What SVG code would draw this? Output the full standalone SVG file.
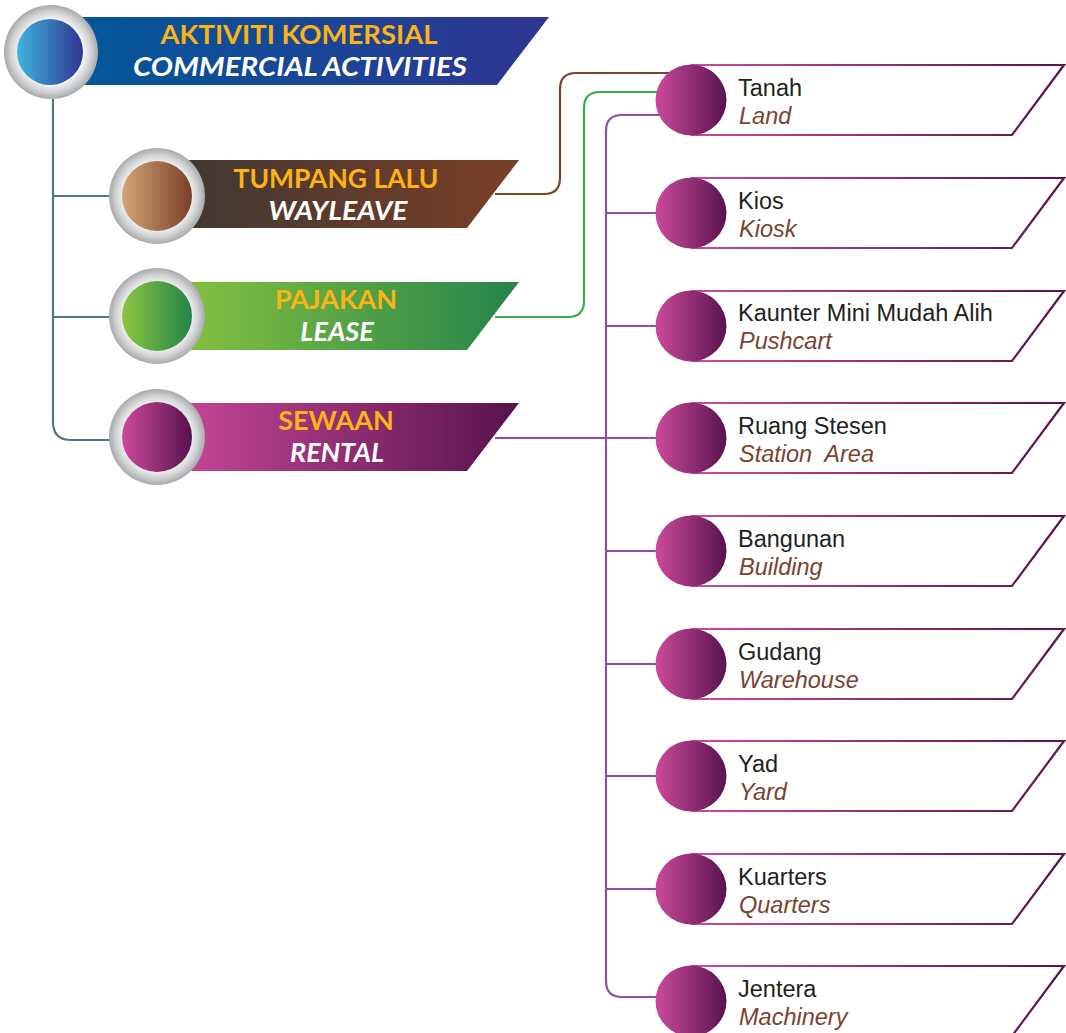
<svg xmlns="http://www.w3.org/2000/svg" width="1066" height="1033" viewBox="0 0 1066 1033">
<defs>
  <radialGradient id="ring" cx="50%" cy="50%" r="50%">
    <stop offset="0.70" stop-color="#f1f2f2"/>
    <stop offset="0.85" stop-color="#d1d3d4"/>
    <stop offset="1" stop-color="#a7a9ac"/>
  </radialGradient>
  <linearGradient id="gBlueC" x1="0" y1="0" x2="1" y2="0">
    <stop offset="0" stop-color="#40b5dc"/>
    <stop offset="1" stop-color="#2e3590"/>
  </linearGradient>
  <linearGradient id="gBlueB" x1="0" y1="0" x2="1" y2="0">
    <stop offset="0" stop-color="#00599a"/>
    <stop offset="1" stop-color="#2f3592"/>
  </linearGradient>
  <linearGradient id="gBrownC" x1="0" y1="0" x2="1" y2="0">
    <stop offset="0" stop-color="#d4a676"/>
    <stop offset="1" stop-color="#7a3f27"/>
  </linearGradient>
  <linearGradient id="gBrownB" x1="0" y1="0" x2="1" y2="0">
    <stop offset="0" stop-color="#3c3733"/>
    <stop offset="1" stop-color="#7b3f26"/>
  </linearGradient>
  <linearGradient id="gGreenC" x1="0" y1="0" x2="1" y2="0">
    <stop offset="0" stop-color="#8dc63f"/>
    <stop offset="1" stop-color="#23844a"/>
  </linearGradient>
  <linearGradient id="gGreenB" x1="0" y1="0" x2="1" y2="0">
    <stop offset="0" stop-color="#8dc63f"/>
    <stop offset="1" stop-color="#23844a"/>
  </linearGradient>
  <linearGradient id="gPink" x1="0" y1="0" x2="1" y2="0">
    <stop offset="0" stop-color="#cc4a9c"/>
    <stop offset="1" stop-color="#58134d"/>
  </linearGradient>
  <linearGradient id="gPinkStroke" gradientUnits="userSpaceOnUse" x1="690" y1="0" x2="1066" y2="0">
    <stop offset="0" stop-color="#cc4a9c"/>
    <stop offset="1" stop-color="#58134d"/>
  </linearGradient>
  <g id="itemBox">
    <path d="M691 -35 H1064 L1012 35 H691" fill="#fff" stroke="url(#gPinkStroke)" stroke-width="2.2"/>
    <circle cx="691" cy="0" r="35.5" fill="url(#gPink)"/>
  </g>
</defs>
<style>
  .conn { fill: none; stroke-width: 2.2; }
  .gray { stroke: #4f7a82; }
  .brown { stroke: #7b4528; }
  .green { stroke: #3cab4a; }
  .purple { stroke: #9050a2; }
  .hTop { font-family: Lato, "Open Sans", sans-serif; font-weight: bold; font-size: 27px; fill: #fbb316; text-anchor: middle; }
  .hBot { font-family: Lato, "Open Sans", sans-serif; font-weight: bold; font-style: italic; font-size: 27px; fill: #ffffff; text-anchor: middle; }
  .iTop { font-family: "Liberation Sans", Arial, sans-serif; font-size: 23.5px; fill: #231f20; }
  .iBot { font-family: "Liberation Sans", Arial, sans-serif; font-size: 23.5px; font-style: italic; fill: #7a4330; white-space: pre; }
</style>

<g id="connectors">
  <path class="conn gray" d="M53 99 V422 Q53 440 71 440 H112"/>
  <path class="conn gray" d="M53 196 H112"/>
  <path class="conn gray" d="M53 317 H112"/>
  <path class="conn brown" d="M495 194 H544 Q560 194 560 178 V89 Q560 73 576 73 H680"/>
  <path class="conn green" d="M495 317 H568 Q584 317 584 301 V108 Q584 92 600 92 H680"/>
  <path class="conn purple" d="M680 115 H622 Q606 115 606 131 V981 Q606 997 622 997 H680"/>
  <path class="conn purple" d="M606 213 H680 M606 326 H680 M495 438 H680 M606 551 H680 M606 664 H680 M606 776 H680 M606 889 H680"/>
</g>

<g id="node-header">
  <path d="M52 17 H549 L497 85 H52 Z" fill="url(#gBlueB)"/>
  <circle cx="51" cy="52" r="47" fill="url(#ring)"/>
  <circle cx="50" cy="52" r="33" fill="url(#gBlueC)"/>
  <text class="hTop" x="299" y="44" textLength="277" lengthAdjust="spacingAndGlyphs">AKTIVITI KOMERSIAL</text>
  <text class="hBot" x="300" y="76" textLength="334" lengthAdjust="spacingAndGlyphs">COMMERCIAL ACTIVITIES</text>
</g>

<g id="node-wayleave">
  <path d="M157 160 H519 L467 228 H157 Z" fill="url(#gBrownB)"/>
  <circle cx="157" cy="196" r="48" fill="url(#ring)"/>
  <circle cx="157" cy="196" r="35" fill="url(#gBrownC)"/>
  <text class="hTop" x="336" y="188" textLength="205" lengthAdjust="spacingAndGlyphs">TUMPANG LALU</text>
  <text class="hBot" x="338" y="220" textLength="139" lengthAdjust="spacingAndGlyphs">WAYLEAVE</text>
</g>

<g id="node-lease">
  <path d="M157 282 H519 L467 350 H157 Z" fill="url(#gGreenB)"/>
  <circle cx="157" cy="316" r="48" fill="url(#ring)"/>
  <circle cx="157" cy="316" r="35" fill="url(#gGreenC)"/>
  <text class="hTop" x="336" y="309">PAJAKAN</text>
  <text class="hBot" x="337" y="341">LEASE</text>
</g>

<g id="node-rental">
  <path d="M157 403 H519 L467 471 H157 Z" fill="url(#gPink)"/>
  <circle cx="157" cy="437" r="48" fill="url(#ring)"/>
  <circle cx="157" cy="437" r="35" fill="url(#gPink)"/>
  <text class="hTop" x="336" y="430">SEWAAN</text>
  <text class="hBot" x="337" y="462">RENTAL</text>
</g>

<g id="node-land">
  <use href="#itemBox" y="100"/>
  <text class="iTop" x="738" y="96">Tanah</text>
  <text class="iBot" x="739" y="124">Land</text>
</g>
<g id="node-kiosk">
  <use href="#itemBox" y="213"/>
  <text class="iTop" x="738" y="209">Kios</text>
  <text class="iBot" x="739" y="237">Kiosk</text>
</g>
<g id="node-pushcart">
  <use href="#itemBox" y="326"/>
  <text class="iTop" x="738" y="321">Kaunter Mini Mudah Alih</text>
  <text class="iBot" x="739" y="349">Pushcart</text>
</g>
<g id="node-station">
  <use href="#itemBox" y="438"/>
  <text class="iTop" x="738" y="434">Ruang Stesen</text>
  <text class="iBot" x="739" y="462" xml:space="preserve">Station  Area</text>
</g>
<g id="node-building">
  <use href="#itemBox" y="551"/>
  <text class="iTop" x="738" y="547">Bangunan</text>
  <text class="iBot" x="739" y="575">Building</text>
</g>
<g id="node-warehouse">
  <use href="#itemBox" y="664"/>
  <text class="iTop" x="738" y="660">Gudang</text>
  <text class="iBot" x="739" y="688">Warehouse</text>
</g>
<g id="node-yard">
  <use href="#itemBox" y="776"/>
  <text class="iTop" x="738" y="772">Yad</text>
  <text class="iBot" x="739" y="800">Yard</text>
</g>
<g id="node-quarters">
  <use href="#itemBox" y="889"/>
  <text class="iTop" x="738" y="885">Kuarters</text>
  <text class="iBot" x="739" y="913">Quarters</text>
</g>
<g id="node-machinery">
  <use href="#itemBox" y="1001"/>
  <text class="iTop" x="738" y="997">Jentera</text>
  <text class="iBot" x="739" y="1025">Machinery</text>
</g>
</svg>
